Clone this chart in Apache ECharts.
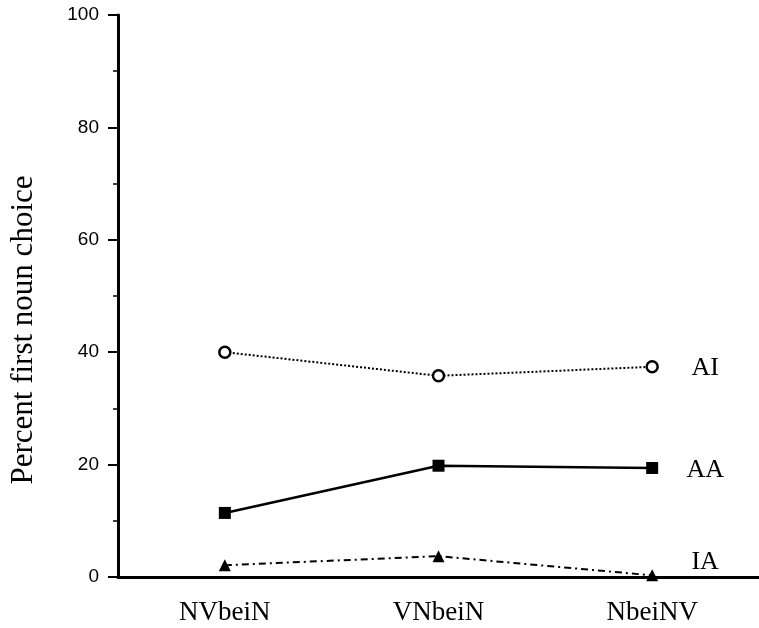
<!DOCTYPE html>
<html>
<head>
<meta charset="utf-8">
<script src="https://cdn.jsdelivr.net/npm/echarts@6/dist/echarts.min.js"></script>
<style>html,body{margin:0;padding:0;background:#fff;}#c{width:759px;height:628px;}</style>
</head>
<body>
<div id="c"></div>
<script>
const categories = ['NVbeiN', 'VNbeiN', 'NbeiNV'];
const seriesNames = ['AI', 'AA', 'IA'];
const valuesAI = [40, 35.8, 37.4];
const valuesAA = [11.4, 19.8, 19.4];
const valuesIA = [2.1, 3.7, 0.3];
const yTicks = [0, 20, 40, 60, 80, 100];

const chart = echarts.init(document.getElementById('c'));
const serif = 'Liberation Serif';
const sans = 'Liberation Sans';

function endLbl(dy) {
  return {
    show: true, formatter: '{a}', distance: 53, offset: [0, dy], align: 'center',
    fontFamily: serif, fontSize: 26, color: '#000'
  };
}

chart.setOption({
  animation: false,
  backgroundColor: '#fff',
  grid: { left: 111, right: 0, top: 15, bottom: 51, containLabel: false },
  xAxis: {
    type: 'category', data: categories, boundaryGap: true,
    axisLine: { lineStyle: { color: '#000', width: 3 } },
    axisTick: { alignWithLabel: true, length: 8, lineStyle: { color: '#000', width: 2 } },
    axisLabel: { fontFamily: serif, fontSize: 27, color: '#000', margin: 22 }
  },
  yAxis: {
    type: 'value', min: yTicks[0], max: yTicks[yTicks.length - 1], interval: 20,
    name: 'Percent first noun choice', nameLocation: 'middle', nameGap: 79,
    nameTextStyle: { fontFamily: serif, fontSize: 31, color: '#000', padding: [0, 68, 0, 0] },
    axisLine: { show: true, lineStyle: { color: '#000', width: 3 } },
    axisTick: { show: true, length: 10, lineStyle: { color: '#000', width: 2 } },
    minorTick: { show: true, splitNumber: 2, length: 5, lineStyle: { color: '#000', width: 1.5 } },
    splitLine: { show: false },
    axisLabel: { fontFamily: sans, fontSize: 19, color: '#000', margin: 19 }
  },
  series: [
    {
      name: seriesNames[0], type: 'line', data: valuesAI,
      symbol: 'circle', symbolSize: 11,
      itemStyle: { color: '#fff', borderColor: '#000', borderWidth: 2.5 },
      lineStyle: { color: '#000', width: 2, type: [2, 2] },
      endLabel: endLbl(1)
    },
    {
      name: seriesNames[1], type: 'line', data: valuesAA,
      symbol: 'rect', symbolSize: 12,
      itemStyle: { color: '#000' },
      lineStyle: { color: '#000', width: 2.5, type: 'solid' },
      endLabel: endLbl(2)
    },
    {
      name: seriesNames[2], type: 'line', data: valuesIA,
      symbol: 'triangle', symbolSize: 12,
      itemStyle: { color: '#000' },
      lineStyle: { color: '#000', width: 2, type: [7, 4, 2, 4] },
      endLabel: endLbl(-13)
    }
  ]
});
</script>
</body>
</html>
